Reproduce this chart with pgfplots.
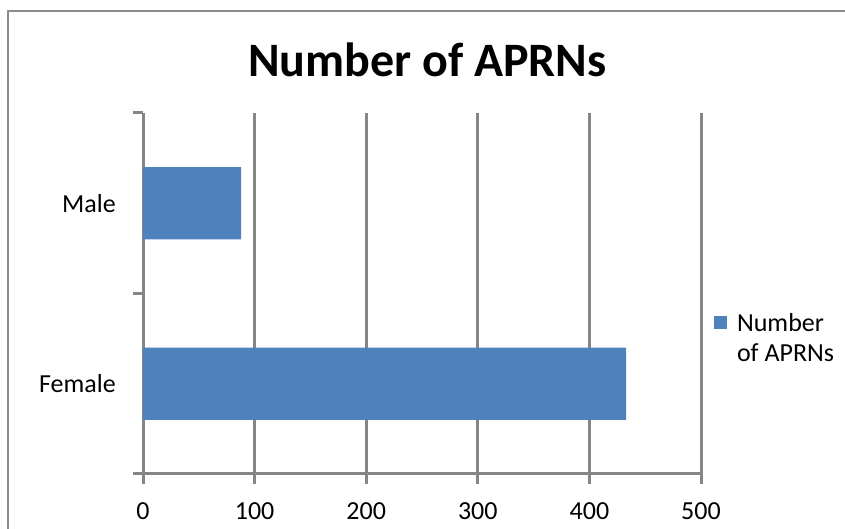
\documentclass[border=0pt]{standalone}
\usepackage{pgfplots}
\pgfplotsset{compat=1.18}
\usepackage{fontspec}
\setmainfont{Carlito}
\definecolor{barblue}{HTML}{4F81BD}
\definecolor{gridgray}{HTML}{868686}
\definecolor{framegray}{HTML}{8C8C8C}
\begin{document}
\begin{tikzpicture}[x=1pt,y=1pt]
\useasboundingbox (0,0) rectangle (845,529);
\draw[line width=2pt, color=framegray] (7.5,-10) -- (7.5,517.5) -- (860,517.5);
\node[font=\bfseries\fontsize{48}{56}\selectfont, anchor=base, inner sep=0pt] at (427.5,452) {Number of APRNs};
\begin{axis}[
  at={(143pt,55pt)}, anchor=south west,
  width=558pt, height=361pt, scale only axis,
  xmin=0, xmax=500, ymin=-0.5, ymax=1.5,
  axis x line=bottom, axis y line=left,
  axis line style={-, line width=3pt, color=gridgray},
  xtick={0,100,...,500},
  xmajorgrids=true,
  major grid style={line width=3pt, color=gridgray},
  tick align=outside,
  major tick length=10pt,
  every tick/.style={line width=3pt, color=gridgray},
  ytick={-0.5,0.5,1.5}, yticklabels={},
  extra y ticks={0,1}, extra y tick labels={Female,Male},
  extra y tick style={major tick length=0pt, yticklabel style={xshift=-27pt}},
  ticklabel style={font=\fontsize{26}{31}\selectfont, inner sep=0pt, text=black},
  xticklabel style={yshift=-18pt},
  /pgf/number format/assume math mode=true,
  legend style={at={(rel axis cs:1.023,0.446)}, anchor=north west, draw=none, fill=none,
     inner sep=0pt, font=\fontsize{26}{30}\selectfont, /tikz/column sep=10pt,
     nodes={inner sep=0pt, anchor=base west}},
  legend image code/.code={\fill[barblue] (0pt,2pt) rectangle (13pt,15pt);},
]
\addplot[xbar, fill=barblue, draw=none, bar width=0.4] coordinates {(433,0) (88,1)};
\addlegendentry{\parbox[t]{110pt}{\raggedright Number\\of APRNs}}
\end{axis}
\end{tikzpicture}
\end{document}
